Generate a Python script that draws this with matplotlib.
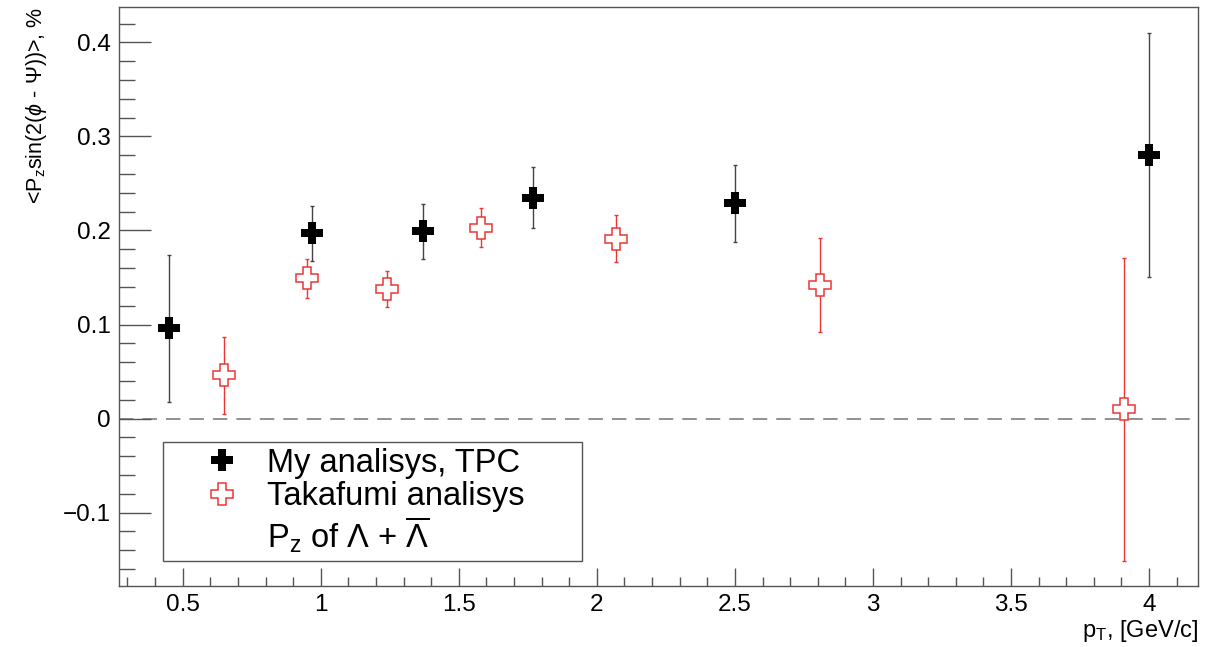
import numpy as np
import matplotlib
matplotlib.use("Agg")
import matplotlib.pyplot as plt
from matplotlib.lines import Line2D
from matplotlib.ticker import MultipleLocator

plt.rcParams['font.family'] = ['Liberation Sans', 'DejaVu Sans']
plt.rcParams['mathtext.fontset'] = 'custom'
plt.rcParams['mathtext.rm'] = 'Liberation Sans'
plt.rcParams['mathtext.it'] = 'Liberation Sans:italic'
plt.rcParams['mathtext.cal'] = 'Liberation Serif'

# my analysis (TPC)
pt_my = [0.45, 0.97, 1.37, 1.77, 2.50, 4.00]
pz_my = [0.096, 0.197, 0.199, 0.235, 0.229, 0.280]
err_my = [0.078, 0.029, 0.029, 0.032, 0.041, 0.130]

# Takafumi analysis
pt_tk = [0.65, 0.95, 1.24, 1.58, 2.07, 2.81, 3.91]
pz_tk = [0.046, 0.149, 0.138, 0.203, 0.191, 0.142, 0.010]
err_tk = [0.041, 0.021, 0.019, 0.021, 0.025, 0.050, 0.161]

frame_col = '#555555'
red = '#ee3535'

fig = plt.figure(figsize=(12.3, 6.47), dpi=100)
ax = fig.add_axes([0.0967, 0.0943, 0.8772, 0.8949])

ax.axhline(0, color='#888888', lw=1.3, ls=(0, (8, 5)), zorder=1)

ax.errorbar(pt_my, pz_my, yerr=err_my, fmt='none', ecolor='#444444',
            elinewidth=1, capsize=1.5, zorder=2)
ax.plot(pt_my, pz_my, ls='none', marker='P', ms=16, mfc='black',
        mec='black', mew=0, zorder=4)

ax.errorbar(pt_tk, pz_tk, yerr=err_tk, fmt='none', ecolor=red,
            elinewidth=1, capsize=1.5, zorder=2)
ax.plot(pt_tk, pz_tk, ls='none', marker='P', ms=16, mfc='white',
        mec=red, mew=1.1, zorder=4)

ax.set_xlim(0.269, 4.177)
ax.set_ylim(-0.178, 0.4376)

ax.xaxis.set_major_locator(MultipleLocator(0.5))
ax.xaxis.set_minor_locator(MultipleLocator(0.1))
ax.yaxis.set_major_locator(MultipleLocator(0.1))
ax.yaxis.set_minor_locator(MultipleLocator(0.02))
ax.xaxis.set_major_formatter(matplotlib.ticker.FuncFormatter(lambda v, p: f'{v:g}'))
ax.yaxis.set_major_formatter(matplotlib.ticker.FuncFormatter(
    lambda v, p: '0' if abs(v) < 1e-9 else f'{v:g}'.replace('-', '\u2212')))

ax.tick_params(axis='y', which='major', direction='in', length=23, width=1,
               color=frame_col, labelsize=17.5, pad=6)
ax.tick_params(axis='y', which='minor', direction='in', length=11.5, width=1,
               color=frame_col)
ax.tick_params(axis='x', which='major', direction='in', length=13, width=1,
               color=frame_col, labelsize=17.5, pad=6)
ax.tick_params(axis='x', which='minor', direction='in', length=6.5, width=1,
               color=frame_col)
for s in ax.spines.values():
    s.set_color(frame_col)
    s.set_linewidth(1)

ax.set_ylabel(r'<P$_{\rm z}$sin(2($\phi$ - $\Psi$))>, %', fontsize=15.5,
              loc='top', labelpad=10)
ax.set_xlabel(r'p$_{\rm T}$, [GeV/c]', fontsize=17, loc='right', labelpad=1)

handles = [
    Line2D([], [], ls='none', marker='P', ms=16, mfc='black', mec='black', mew=0),
    Line2D([], [], ls='none', marker='P', ms=16, mfc='white', mec=red, mew=1.1),
    Line2D([], [], ls='none'),
]
labels = ['My analisys, TPC', 'Takafumi analisys',
          r'P$_{\rm z}$ of $\Lambda$ + $\overline{\Lambda}$']
leg = ax.legend(handles, labels, loc='upper left',
                bbox_to_anchor=(0.0408, 0.0484, 0.388, 0.2003), mode='expand',
                fontsize=23.5, frameon=True, fancybox=False, edgecolor=frame_col,
                framealpha=1, borderpad=0.17, labelspacing=0.08,
                handlelength=3.3, handletextpad=-0.28, borderaxespad=0)
leg.get_frame().set_linewidth(1)

fig.savefig('out.png', dpi=100)
